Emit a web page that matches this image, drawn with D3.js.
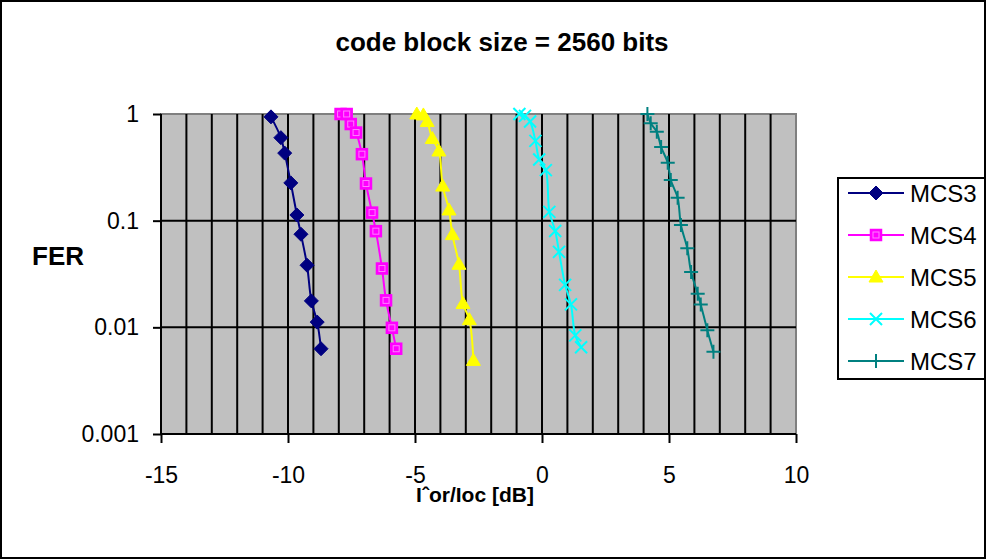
<!DOCTYPE html>
<html><head><meta charset="utf-8">
<script src="https://cdn.jsdelivr.net/npm/d3@7"></script>
<style>
html,body{margin:0;padding:0;background:#fff;}
svg{display:block;font-family:"Liberation Sans",Arial,sans-serif;}
</style></head>
<body>
<svg id="chart" width="987" height="560"></svg>
<script>
const titleText = "code block size = 2560 bits";
const xTitle = "Iˆor/Ioc [dB]";
const yTitle = "FER";
const xTicks = [-15, -10, -5, 0, 5, 10];
const yTicks = [1, 0.1, 0.01, 0.001];
const yTickLabels = ["1", "0.1", "0.01", "0.001"];
const seriesNames = ["MCS3", "MCS4", "MCS5", "MCS6", "MCS7"];
const seriesColors = ["#000080", "#FF00FF", "#FFFF00", "#00FFFF", "#008080"];
const seriesMarkers = ["diamond", "square", "triangle", "x", "plus"];

const mcs3X = [-10.67,-10.28,-10.13,-9.89,-9.65,-9.49,-9.25,-9.08,-8.85,-8.70];
const mcs3Y = [0.94,0.60,0.43,0.226,0.113,0.0746,0.0382,0.0177,0.0112,0.0063];
const mcs4X = [-7.93,-7.69,-7.53,-7.32,-7.09,-6.93,-6.69,-6.54,-6.30,-6.14,-5.91,-5.74];
const mcs4Y = [1.0,1.0,0.805,0.67,0.42,0.223,0.119,0.0797,0.0356,0.0179,0.0099,0.0063];
const mcs5X = [-4.93,-4.67,-4.52,-4.32,-4.06,-3.91,-3.66,-3.53,-3.27,-3.11,-2.86,-2.70];
const mcs5Y = [1.0,0.98,0.85,0.59,0.45,0.211,0.126,0.074,0.039,0.0167,0.0118,0.0049];
const mcs6X = [-0.89,-0.67,-0.47,-0.26,-0.11,0.15,0.29,0.52,0.67,0.91,1.14,1.31,1.54];
const mcs6Y = [1.0,0.96,0.85,0.56,0.375,0.298,0.121,0.080,0.051,0.025,0.0164,0.0084,0.0065];
const mcs7X = [4.15,4.28,4.52,4.69,4.95,5.07,5.34,5.47,5.72,5.87,6.13,6.25,6.51,6.75];
const mcs7Y = [1.0,0.82,0.68,0.49,0.35,0.24,0.164,0.091,0.055,0.033,0.0207,0.0164,0.0094,0.0059];

const seriesX = [mcs3X, mcs4X, mcs5X, mcs6X, mcs7X];
const seriesY = [mcs3Y, mcs4Y, mcs5Y, mcs6Y, mcs7Y];

const W = 987, H = 560;
const plot = {l: 161, r: 796, t: 114, b: 434};
const svg = d3.select("#chart");

svg.append("rect").attr("x", 1).attr("y", 1).attr("width", W - 3).attr("height", H - 3)
  .attr("fill", "#fff").attr("stroke", "#000").attr("stroke-width", 2);

const x = d3.scaleLinear().domain([-15, 10]).range([plot.l, plot.r]);
const y = d3.scaleLog().domain([0.001, 1]).range([plot.b, plot.t]);

svg.append("rect").attr("x", plot.l).attr("y", plot.t)
  .attr("width", plot.r - plot.l).attr("height", plot.b - plot.t)
  .attr("fill", "#C0C0C0").attr("stroke", "#808080").attr("stroke-width", 2);

// vertical gridlines every 1 dB
const gx = d3.range(-14, 10, 1);
svg.append("g").selectAll("line").data(gx).join("line")
  .attr("x1", d => x(d)).attr("x2", d => x(d))
  .attr("y1", plot.t).attr("y2", plot.b)
  .attr("stroke", "#000").attr("stroke-width", 2);
// horizontal gridlines at decades
svg.append("g").selectAll("line").data([0.1, 0.01]).join("line")
  .attr("x1", plot.l).attr("x2", plot.r)
  .attr("y1", d => y(d)).attr("y2", d => y(d))
  .attr("stroke", "#000").attr("stroke-width", 2);

// axes
const xAxis = d3.axisBottom(x).tickValues(xTicks).tickSize(9).tickPadding(24).tickFormat(d => String(d));
const gX = svg.append("g").attr("transform", `translate(0,${plot.b})`).call(xAxis);
const yAxis = d3.axisLeft(y).tickValues(yTicks).tickSize(8).tickPadding(14)
  .tickFormat((d, i) => yTickLabels[i]);
const gY = svg.append("g").attr("transform", `translate(${plot.l},0)`).call(yAxis);
[gX, gY].forEach(g => {
  g.selectAll(".domain").attr("stroke", "#000").attr("stroke-width", 2);
  g.selectAll(".tick line").attr("stroke", "#000").attr("stroke-width", 2);
  g.selectAll(".tick text").attr("fill", "#000").style("font-size", "23px")
    .style("font-family", "'Liberation Sans', Arial, sans-serif");
});
gX.select(".domain").attr("d", `M${plot.l},0H${plot.r}`);
gY.select(".domain").attr("d", `M0,${plot.t}V${plot.b}`);

// titles
svg.append("text").attr("x", 502).attr("y", 51).attr("text-anchor", "middle")
  .style("font-size", "26px").style("font-weight", "bold").text(titleText);
svg.append("text").attr("x", 475).attr("y", 502).attr("text-anchor", "middle")
  .style("font-size", "21px").style("font-weight", "bold").text(xTitle);
svg.append("text").attr("x", 32).attr("y", 265).attr("text-anchor", "start")
  .style("font-size", "26px").style("font-weight", "bold").text(yTitle);

function marker(g, type, color, cx, cy) {
  if (type === "diamond") {
    g.append("path").attr("d", `M${cx},${cy-7}L${cx+7},${cy}L${cx},${cy+7}L${cx-7},${cy}Z`)
      .attr("fill", color).attr("stroke", color).attr("stroke-width", 1);
  } else if (type === "square") {
    g.append("rect").attr("x", cx - 5.5).attr("y", cy - 5.5).attr("width", 11).attr("height", 11)
      .attr("fill", color).attr("stroke", color).attr("stroke-width", 1.5);
    g.append("rect").attr("x", cx - 3).attr("y", cy - 3).attr("width", 6).attr("height", 6)
      .attr("fill", "none").attr("stroke", "#FF80FF").attr("stroke-width", 1);
  } else if (type === "triangle") {
    g.append("path").attr("d", `M${cx},${cy-7}L${cx+7},${cy+5}L${cx-7},${cy+5}Z`)
      .attr("fill", color).attr("stroke", color).attr("stroke-width", 1);
  } else if (type === "x") {
    g.append("path").attr("d", `M${cx-6},${cy-6}L${cx+6},${cy+6}M${cx+6},${cy-6}L${cx-6},${cy+6}`)
      .attr("fill", "none").attr("stroke", color).attr("stroke-width", 2);
  } else if (type === "plus") {
    g.append("path").attr("d", `M${cx-7},${cy}L${cx+7},${cy}M${cx},${cy-7}L${cx},${cy+7}`)
      .attr("fill", "none").attr("stroke", color).attr("stroke-width", 2);
  }
}

const line = d3.line().x(d => x(d[0])).y(d => y(d[1])).curve(d3.curveCatmullRom.alpha(0.5));
seriesNames.forEach((name, i) => {
  const pts = seriesX[i].map((v, j) => [v, seriesY[i][j]]);
  const g = svg.append("g");
  g.append("path").datum(pts).attr("d", line).attr("fill", "none")
    .attr("stroke", seriesColors[i]).attr("stroke-width", 2);
  pts.forEach(p => marker(g, seriesMarkers[i], seriesColors[i], x(p[0]), y(p[1])));
});

// legend
const lg = svg.append("g");
lg.append("rect").attr("x", 838).attr("y", 178).attr("width", 147).attr("height", 201)
  .attr("fill", "#fff").attr("stroke", "#000").attr("stroke-width", 2);
const legendRows = [193, 235, 277, 319, 361];
seriesNames.forEach((name, i) => {
  const ry = legendRows[i];
  lg.append("line").attr("x1", 848).attr("x2", 904).attr("y1", ry).attr("y2", ry)
    .attr("stroke", seriesColors[i]).attr("stroke-width", 2);
  marker(lg, seriesMarkers[i], seriesColors[i], 876, ry);
  lg.append("text").attr("x", 910).attr("y", ry + 9).style("font-size", "24px").text(name);
});
</script>
</body></html>
